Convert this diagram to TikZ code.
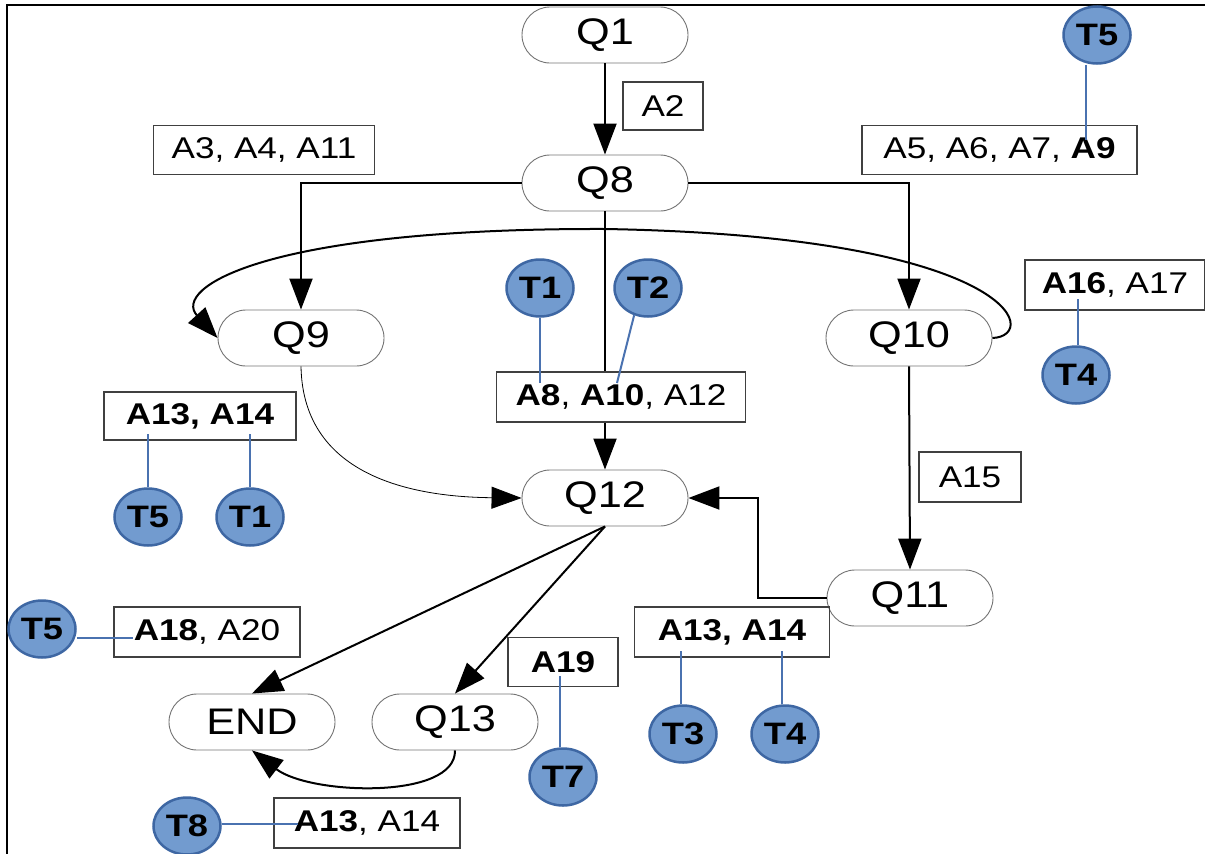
\documentclass[tikz,border=0pt]{standalone}
\usepackage{fontspec}
\setmainfont[FakeStretch=1.17]{Liberation Sans}
\usetikzlibrary{arrows.meta,shapes.geometric}
\definecolor{tfill}{RGB}{114,155,207}
\definecolor{tborder}{RGB}{62,103,163}
\definecolor{tlinecol}{RGB}{74,114,176}
\begin{document}
\begin{tikzpicture}[x=1pt,y=-1pt,
 qnode/.style={draw=black!55, line width=0.9pt, rounded corners=28pt, minimum width=166pt, minimum height=56pt, inner sep=0pt, font=\fontsize{37}{40}\selectfont},
 lbl/.style={draw=black!75, line width=1.2pt, inner sep=0pt, font=\fontsize{30}{34}\selectfont},
 tnode/.style={ellipse, draw=tborder, line width=2.5pt, fill=tfill, minimum width=67pt, minimum height=57pt, inner sep=0pt, font=\fontsize{31}{33}\selectfont\bfseries},
 arr/.style={line width=2pt, -{Triangle[length=31pt,width=23pt]}},
 thinarr/.style={line width=0.8pt, -{Triangle[length=30pt,width=22pt]}},
 conn/.style={line width=2pt},
 tline/.style={draw=tlinecol, line width=2pt}
]
\useasboundingbox (0,0) rectangle (1205,854);
% frame
\draw[line width=2pt] (7,854) -- (7,5) -- (1205,5);

% state nodes
\node[qnode] (Q1) at (605,35) {Q1};
\node[qnode] (Q8) at (605,183) {Q8};
\node[qnode] (Q9) at (301,338) {Q9};
\node[qnode] (Q10) at (909,338) {Q10};
\node[qnode] (Q12) at (605,498) {Q12};
\node[qnode] (Q11) at (910,598) {Q11};
\node[qnode] (END) at (252,722) {END};
\node[qnode] (Q13) at (455,722) {Q13};

% label boxes
\node[lbl, minimum width=80pt, minimum height=48pt] (A2) at (663,106) {A2};
\node[lbl, minimum width=221pt, minimum height=49pt] (A3) at (264,150) {A3, A4, A11};
\node[lbl, minimum width=275pt, minimum height=49pt] (A5) at (999.5,150) {A5, A6, A7, \textbf{A9}};
\node[lbl, minimum width=249pt, minimum height=50pt] (A8) at (621,397) {\textbf{A8}, \textbf{A10}, A12};
\node[lbl, minimum width=180pt, minimum height=50pt] (A16) at (1115,285) {\textbf{A16}, A17};
\node[lbl, minimum width=102pt, minimum height=50pt] (A15) at (970,477) {A15};
\node[lbl, minimum width=192pt, minimum height=48pt] (L1314) at (200,416) {\textbf{A13, A14}};
\node[lbl, minimum width=186pt, minimum height=50pt] (A18) at (207,632) {\textbf{A18}, A20};
\node[lbl, minimum width=110pt, minimum height=49pt] (A19) at (563,662) {\textbf{A19}};
\node[lbl, minimum width=195pt, minimum height=50pt] (R1314) at (732,632) {\textbf{A13, A14}};
\node[lbl, minimum width=186pt, minimum height=50pt] (B1314) at (367,823) {\textbf{A13}, A14};

% connectors
\draw[arr] (Q1) -- (Q8);
\draw[arr] (Q8.west) -| (Q9.north);
\draw[arr] (Q8.east) -| (Q10.north);
\draw[conn] (Q8.south) -- (Q8.south |- A8.north);
\draw[arr] (Q8.south |- A8.south) -- (Q12.north);
\coordinate (top) at (605,229);
\draw[arr] (Q10.east) .. controls (1042,336) and (1014,236) .. (top)
  .. controls (265,228) and (172,288) .. (Q9.west);
\draw[thinarr] (Q9.south) .. controls (303,480) and (420,497) .. (Q12.west);
\draw[arr] (Q10.south) -- (Q11.north);
\coordinate (elb) at (758,598);
\draw[arr] (Q11.west) -- (elb) |- (Q12.east);
\draw[arr] (Q12.south) -- (END.north);
\draw[arr] (Q12.south) -- (Q13.north);
\draw[arr] (Q13.south) .. controls (456,800) and (310,795) .. (END.south);

% task nodes
\node[tnode] (T5a) at (1097,35) {T5};
\node[tnode] (T1m) at (540,288) {T1};
\node[tnode] (T2) at (648,288) {T2};
\node[tnode] (T4r) at (1076,375) {T4};
\node[tnode] (T5l) at (148,517) {T5};
\node[tnode] (T1l) at (250,517) {T1};
\node[tnode] (T5b) at (42,629) {T5};
\node[tnode] (T7) at (563,777) {T7};
\node[tnode] (T3) at (683,734) {T3};
\node[tnode] (T4b) at (785,734) {T4};
\node[tnode] (T8) at (187,826) {T8};

% task links
\coordinate (e1) at (1086,140);
\draw[tline] (T5a.south -| e1) -- (e1);
\coordinate (e2) at (540,383);
\draw[tline] (T1m.south) -- (e2);
\coordinate (e3) at (617,383);
\draw[tline] (T2.243) -- (e3);
\coordinate (e4) at (1078,299);
\draw[tline] (T4r.north -| e4) -- (e4);
\coordinate (e5) at (148,434);
\draw[tline] (T5l.north) -- (e5);
\coordinate (e6) at (250,434);
\draw[tline] (T1l.north) -- (e6);
\coordinate (e7) at (133,638);
\draw[tline] (T5b.east |- e7) -- (e7);
\coordinate (e8) at (560,676);
\draw[tline] (T7.north -| e8) -- (e8);
\coordinate (e9) at (681,651);
\draw[tline] (T3.north -| e9) -- (e9);
\coordinate (e10) at (782,651);
\draw[tline] (T4b.north -| e10) -- (e10);
\coordinate (e11) at (298,824);
\draw[tline] (T8.east |- e11) -- (e11);
\end{tikzpicture}
\end{document}
